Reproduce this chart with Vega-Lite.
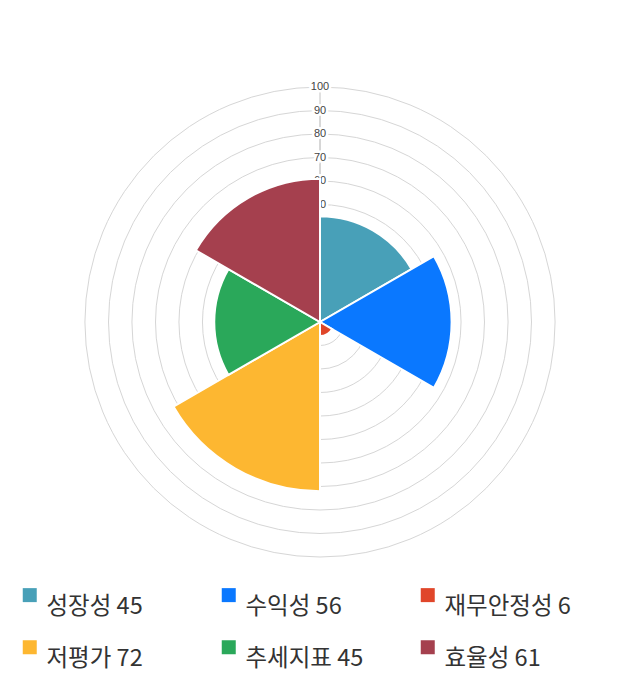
{
  "$schema": "https://vega.github.io/schema/vega-lite/v6.json",
  "width": 640,
  "height": 644,
  "autosize": {"type": "none"},
  "padding": {"left": 0, "top": 0, "right": 0, "bottom": 56},
  "background": "white",
  "config": {"view": {"stroke": null}},
  "datasets": {
    "scores": [
      {"label": "성장성 45", "value": 45},
      {"label": "수익성 56", "value": 56},
      {"label": "재무안정성 6", "value": 6},
      {"label": "저평가 72", "value": 72},
      {"label": "추세지표 45", "value": 45},
      {"label": "효율성 61", "value": 61}
    ],
    "ticks": [
      {"tick": 10}, {"tick": 20}, {"tick": 30}, {"tick": 40}, {"tick": 50},
      {"tick": 60}, {"tick": 70}, {"tick": 80}, {"tick": 90}, {"tick": 100}
    ]
  },
  "layer": [
    {
      "data": {"name": "ticks"},
      "mark": {"type": "arc", "theta": 0, "theta2": 6.283185, "fill": null, "filled": false, "stroke": "#d6d6d6", "strokeWidth": 1},
      "encoding": {
        "radius": {"field": "tick", "type": "quantitative", "stack": null, "scale": {"type": "linear", "domain": [0, 100], "range": [0, 235], "zero": true}}
      }
    },
    {
      "data": {"name": "ticks"},
      "mark": {"type": "text", "theta": 0, "fontSize": 11, "font": "Liberation Sans", "fill": "white", "stroke": "white", "strokeWidth": 5, "baseline": "middle", "align": "center"},
      "encoding": {
        "radius": {"field": "tick", "type": "quantitative", "stack": null},
        "text": {"field": "tick", "type": "quantitative"}
      }
    },
    {
      "data": {"name": "ticks"},
      "mark": {"type": "text", "theta": 0, "fontSize": 11, "font": "Liberation Sans", "fill": "#444", "baseline": "middle", "align": "center"},
      "encoding": {
        "radius": {"field": "tick", "type": "quantitative", "stack": null},
        "text": {"field": "tick", "type": "quantitative"}
      }
    },
    {
      "data": {"name": "scores"},
      "transform": [
        {"joinaggregate": [{"op": "count", "as": "n"}], "groupby": ["label"]},
        {"stack": "n", "groupby": [], "sort": [{"field": "label", "order": "ascending"}], "as": ["t0", "t1"]}
      ],
      "mark": {"type": "arc", "stroke": "white", "strokeWidth": 2, "fillOpacity": 1},
      "encoding": {
        "theta": {"field": "t0", "type": "quantitative", "scale": {"domain": [0, 6], "range": [0, 6.283185]}},
        "theta2": {"field": "t1"},
        "radius": {"field": "value", "type": "quantitative", "stack": null},
        "color": {
          "field": "label",
          "type": "nominal",
          "sort": ["성장성 45", "수익성 56", "재무안정성 6", "저평가 72", "추세지표 45", "효율성 61"],
          "scale": {
            "range": ["#48a0b8", "#0a78ff", "#e0462a", "#fdb731", "#2aa85a", "#a5404e"]
          },
          "legend": {
            "title": null,
            "orient": "none",
            "legendX": 18,
            "legendY": 583,
            "padding": 0,
            "direction": "horizontal",
            "columns": 3,
            "gridAlign": "all",
            "columnPadding": 44,
            "rowPadding": 16.5,
            "symbolType": "square",
            "symbolSize": 196,
            "symbolStrokeWidth": 0,
            "symbolOpacity": 1,
            "labelFont": "Noto Sans CJK KR",
            "labelFontSize": 23.5,
            "labelColor": "#333",
            "labelBaseline": "top",
            "labelOffset": 5,
            "labelLimit": 300
          }
        }
      }
    }
  ]
}
